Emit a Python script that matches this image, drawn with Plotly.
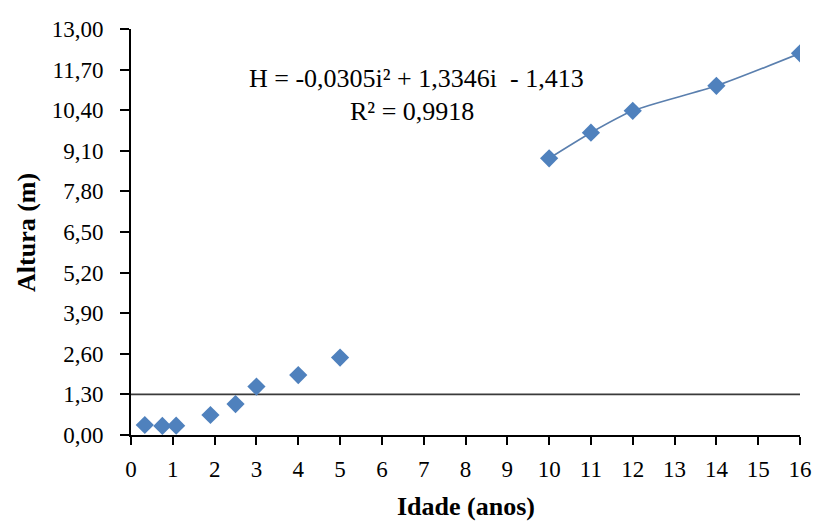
import plotly.graph_objects as go

# Data
idade = [0.33, 0.75, 1.08, 1.9, 2.5, 3, 4, 5, 10, 11, 12, 14, 16]
altura = [0.32, 0.29, 0.30, 0.64, 0.99, 1.55, 1.92, 2.48, 8.86, 9.68, 10.38, 11.18, 12.22]

x_ticks = list(range(0, 17))
y_ticks = [0, 1.3, 2.6, 3.9, 5.2, 6.5, 7.8, 9.1, 10.4, 11.7, 13.0]
y_tick_text = ["0,00", "1,30", "2,60", "3,90", "5,20", "6,50", "7,80", "9,10", "10,40", "11,70", "13,00"]
ref_height = 1.3

eq_text = "H = -0,0305i² + 1,3346i  - 1,413"
r2_text = "R² = 0,9918"
x_title = "<b>Idade (anos)</b>"
y_title = "<b>Altura (m)</b>"

# trend line through the older ages (x >= 10)
xs = [x for x in idade if x >= 10]
ys = [y for x, y in zip(idade, altura) if x >= 10]

FONT = "Liberation Serif"
BLUE = "#4F81BD"

fig = go.Figure()
fig.add_trace(go.Scatter(x=xs, y=ys, mode="lines",
                         line=dict(color="#5A7FAE", width=1.6, shape="spline", smoothing=0.7),
                         hoverinfo="skip", showlegend=False))
fig.add_trace(go.Scatter(x=idade, y=altura, mode="markers",
                         marker=dict(symbol="diamond", size=14, color=BLUE,
                                     line=dict(width=0)),
                         showlegend=False))

fig.add_shape(type="line", xref="paper", yref="y", x0=0, x1=1,
              y0=ref_height, y1=ref_height,
              line=dict(color="#3a3a3a", width=1.6), layer="below")

fig.add_annotation(text=eq_text, xref="x", yref="y", x=6.83, y=11.42,
                   showarrow=False, font=dict(family=FONT, size=26, color="black"))
fig.add_annotation(text=r2_text, xref="x", yref="y", x=6.72, y=10.36,
                   showarrow=False, font=dict(family=FONT, size=26, color="black"))

# axis titles
fig.add_annotation(text=x_title, xref="paper", yref="paper", x=0.5, y=-0.177,
                   xanchor="center", yanchor="middle", showarrow=False,
                   font=dict(family=FONT, size=26, color="black"))
fig.add_annotation(text=y_title, xref="paper", yref="paper", x=-0.157, y=0.5,
                   xanchor="center", yanchor="middle", textangle=-90, showarrow=False,
                   font=dict(family=FONT, size=26, color="black"))

fig.update_layout(
    width=819, height=522,
    margin=dict(l=131, r=19, t=29, b=87, autoexpand=False),
    paper_bgcolor="white", plot_bgcolor="white",
    font=dict(family=FONT, size=24, color="black"),
    xaxis=dict(range=[0, 16], tickvals=x_ticks, ticks="outside", ticklen=8,
               tickwidth=2, tickcolor="black", showline=True, linecolor="black",
               linewidth=2, showgrid=False, zeroline=False, automargin=False,
               tickfont=dict(family=FONT, size=23), ticklabelstandoff=4),
    yaxis=dict(range=[0, 13], tickvals=y_ticks, ticktext=y_tick_text,
               ticks="outside", ticklen=9, tickwidth=2, tickcolor="black",
               showline=True, linecolor="black", linewidth=2, showgrid=False,
               zeroline=False, automargin=False, tickfont=dict(family=FONT, size=23),
               ticklabelstandoff=12),
)

fig.write_html("out.html")
